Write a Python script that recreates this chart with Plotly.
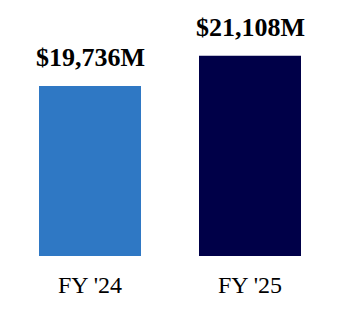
import plotly.graph_objects as go

categories = ["FY '24", "FY '25"]
values = [19736, 21108]
labels = ["$19,736M", "$21,108M"]
colors = ["#2F78C4", "#000048"]

fig = go.Figure(go.Bar(
    x=categories, y=values,
    marker=dict(color=colors, line=dict(width=0)),
    hoverinfo="skip",
))
for c, v, t in zip(categories, values, labels):
    fig.add_annotation(x=c, y=v, text=f"<b>{t}</b>", showarrow=False,
                       yanchor="bottom", yshift=12,
                       font=dict(family="Liberation Serif", size=26, color="#000000"))
fig.update_layout(
    width=340, height=310,
    margin=dict(l=10, r=10, t=0, b=54),
    paper_bgcolor="white", plot_bgcolor="white",
    bargap=0.3625,
    showlegend=False,
    xaxis=dict(showgrid=False, showline=False, zeroline=False, ticks="",
               ticklabelstandoff=12,
               tickfont=dict(family="Liberation Serif", size=24, color="#000000")),
    yaxis=dict(visible=False, range=[12000, 23650]),
)
fig.write_html("out.html")
